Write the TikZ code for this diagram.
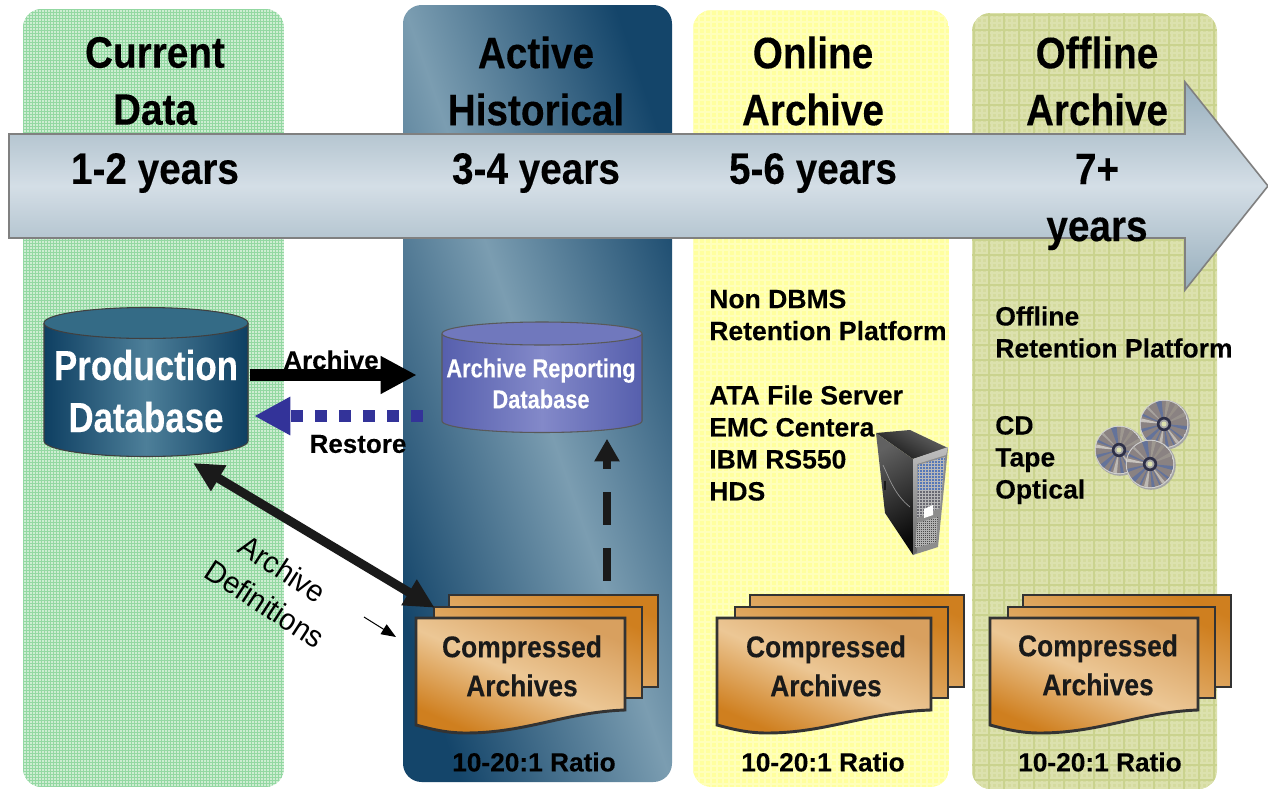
\documentclass[tikz,border=0pt]{standalone}
\usepackage{fontspec}
\setmainfont{Liberation Sans}[BoldFeatures={FakeBold=0.15}]
\newfontfamily\fHead{Liberation Sans}[FakeStretch=0.88,BoldFeatures={FakeBold=0.2}]
\newfontfamily\fProd{Liberation Sans}[FakeStretch=0.83,BoldFeatures={FakeBold=0.2}]
\newfontfamily\fRep{Liberation Sans}[FakeStretch=0.84,BoldFeatures={FakeBold=0.15}]
\newfontfamily\fDef{Liberation Sans}[FakeStretch=0.95]
\usetikzlibrary{arrows.meta,calc}
\definecolor{pgreen}{HTML}{CDEDD2}
\definecolor{pgreenl}{HTML}{93D8A2}
\definecolor{pyellow}{HTML}{FFFF9E}
\definecolor{pyellowl}{HTML}{FFFFBA}
\definecolor{polive}{HTML}{D5DB9F}
\definecolor{polivel}{HTML}{DCE1AE}
\definecolor{polived}{HTML}{CAD38E}
\definecolor{actived}{HTML}{14456A}
\definecolor{activel}{HTML}{7B9DB1}
\definecolor{arrd}{HTML}{97AEBC}
\definecolor{arrl}{HTML}{D4DEE6}
\definecolor{proddark}{HTML}{0E3F62}
\definecolor{prodlight}{HTML}{4D7F99}
\definecolor{prodtop}{HTML}{346B86}
\definecolor{repdark}{HTML}{565FAD}
\definecolor{replight}{HTML}{8389C9}
\definecolor{reptop}{HTML}{7078BD}
\definecolor{restoreblue}{HTML}{333399}
\definecolor{pagedark}{HTML}{CF7F1F}
\definecolor{pagelight}{HTML}{ECC795}
\definecolor{pagemid}{HTML}{D8A05F}
\definecolor{nearblack}{HTML}{1A1A1A}
\definecolor{meshblue}{HTML}{5578B8}
\definecolor{meshgray}{HTML}{6A6A72}
\definecolor{discbase}{HTML}{8A8282}
\definecolor{hubdark}{HTML}{2E3048}
\tikzset{
  headtext/.style={font=\fHead\bfseries\fontsize{33}{42.75}\selectfont,align=center,inner sep=0pt},
  yeartext/.style={font=\fHead\bfseries\fontsize{33}{42.75}\selectfont,align=center,inner sep=0pt},
  platform/.style={font=\bfseries\fontsize{19.9}{24}\selectfont,align=left,anchor=west,inner sep=0pt},
  ratio/.style={font=\bfseries\fontsize{19.7}{24}\selectfont,inner sep=0pt},
  comptext/.style={font=\fHead\bfseries\fontsize{22.5}{29.25}\selectfont,align=center,inner sep=0pt,text=nearblack},
  deftext/.style={font=\fDef\fontsize{22.8}{27}\selectfont,inner sep=0pt,rotate=-33},
  linklabel/.style={font=\bfseries\fontsize{19.5}{24}\selectfont,inner sep=0pt},
  pageline/.style={draw=black!80,line width=2.2pt,line join=miter},
  archivearrow/.style={line width=9.3pt,black,-{Triangle[length=27pt,width=26.5pt]}},
  restorearrow/.style={line width=9.5pt,restoreblue,dash pattern=on 9pt off 9pt,-{Triangle[length=27pt,width=27pt]}},
  defarrow/.style={line width=6.75pt,nearblack,{Triangle[length=22.5pt,width=21pt]}-{Triangle[length=22.5pt,width=21pt]}},
  uparrow/.style={line width=6.4pt,nearblack,dash pattern=on 24.75pt off 17.25pt,-{Triangle[length=17pt,width=18pt]}},
  smallarrow/.style={line width=.75pt,black,-{Triangle[length=11pt,width=8.5pt]}},
}
% stack of three pages: #1 left x, #2 width, #3 node name
\newcommand\pagestack[3]{%
  \pgfmathsetmacro\xa{#1}\pgfmathsetmacro\xr{#1+#2}%
  \shade[bottom color=pagelight,top color=pagedark,shading angle=-24]
     (#1+33,595) -- (\xr+33,595) -- (\xr+33,687) -- (#1+33,687) -- cycle;
  \draw[pageline] (#1+33,606) -- (#1+33,595) -- (\xr+33,595) -- (\xr+33,687) -- (\xr+17,687);
  \shade[bottom color=pagelight,top color=pagedark,shading angle=-24]
     (#1+18,607) -- (\xr+17,607) -- (\xr+17,698) -- (#1+18,698) -- cycle;
  \draw[pageline] (#1+18,618) -- (#1+18,607) -- (\xr+17,607) -- (\xr+17,698) -- (\xr,698);
  \path[pageline,shade,top color=pagemid,bottom color=pagedark,middle color=pagelight,shading angle=-24]
     (#1,618) -- (\xr,618) -- (\xr,710)
     .. controls (#1+150,712) and (#1+110,733) .. (#1+50,733)
     .. controls (#1+30,733) and (#1+15,729) .. (#1,725) -- cycle;
  \node[minimum width=#2*0.75pt,minimum height=86.25pt,inner sep=0pt] (#3) at (#1+#2/2,675.5) {};
}
% compact disc: #1 x, #2 y
\newcommand\compactdisc[2]{%
  \begin{scope}[shift={(#1,#2)}]
    \fill[black!35] (1,1) circle[radius=18.6pt];
    \fill[black!18] (0,0) circle[radius=18.2pt];
    \begin{scope}
      \clip (0,0) circle[radius=17.4pt];
      \fill[discbase] (0,0) circle[radius=17.4pt];
      \foreach \a/\w/\c in {5/10/64739A,35/6/64739A,50/8/BDB9B3,62/4/64739A,78/8/64739A,95/10/BDB9B3,112/5/64739A,130/12/64739A,160/8/64739A,185/9/C8C4BE,200/6/64739A,222/6/A8A49F,250/14/64739A,275/10/9E9890,300/10/968F88,330/10/98928C}{
        \definecolor{raycol}{HTML}{\c}
        \fill[raycol] (0,0) -- (\a:30) -- (\a+\w:30) -- cycle;
      }
    \end{scope}
    \fill[hubdark] (0,0) circle[radius=5.4pt];
    \fill[black!35] (0,0) circle[radius=3.4pt];
    \fill[polivel] (0,0) circle[radius=1.9pt];
  \end{scope}
}
\begin{document}
\begin{tikzpicture}[x=0.75pt,y=-0.75pt,line cap=butt]
\useasboundingbox (0,0) rectangle (1268,789);
\fill[white] (0,0) rectangle (1268,789);
% --- panels ---
\begin{scope}
  \clip[rounded corners=14pt] (23,9) rectangle (284,787);
  \fill[pgreen] (23,9) rectangle (284,787);
  \foreach \x in {23,26,...,284}{\draw[pgreenl,line width=.75pt] (\x,9) -- (\x,787);}
  \foreach \y in {9,12,...,787}{\draw[pgreenl,line width=.75pt] (23,\y) -- (284,\y);}
\end{scope}
\shade[rounded corners=14pt,top color=actived,bottom color=actived,middle color=activel,shading angle=-71]
  (403,5) rectangle (672,782);
\begin{scope}
  \clip[rounded corners=14pt] (693,10) rectangle (949,787);
  \fill[pyellow] (693,10) rectangle (949,787);
  \foreach \x in {693,699,...,949}{\draw[pyellowl,line width=.9pt] (\x,10) -- (\x,787);}
  \foreach \y in {10,16,...,787}{\draw[pyellowl,line width=.9pt] (693,\y) -- (949,\y);}
\end{scope}
\begin{scope}
  \clip[rounded corners=14pt] (972,13) rectangle (1217,789);
  \fill[polive] (972,13) rectangle (1217,789);
  \foreach \x in {972,977,...,1217}{\draw[polivel,line width=.8pt] (\x,13) -- (\x,789);}
  \foreach \y in {13,18,...,789}{\draw[polivel,line width=.8pt] (972,\y) -- (1217,\y);}
  \foreach \x in {974,989,...,1217}{\draw[polived,line width=.8pt] (\x,13) -- (\x,789);}
  \foreach \y in {15,30,...,789}{\draw[polived,line width=.8pt] (972,\y) -- (1217,\y);}
\end{scope}
% --- headings ---
\node[headtext] (h1) at (155,81) {Current\\Data};
\node[headtext] (h2) at (536,81) {Active\\Historical};
\node[headtext] (h3) at (813,81) {Online\\Archive};
\node[headtext] (h4) at (1097,81) {Offline\\Archive};
% --- big timeline arrow ---
\path[draw=black!50,line width=1.2pt,line join=miter,top color=arrd,bottom color=arrd,middle color=arrl]
  (9,134) -- (1185,134) -- (1185,82) -- (1268,186) -- (1185,290) -- (1185,238) -- (9,238) -- cycle;
\node[yeartext] (y1) at (155,173) {1-2 years};
\node[yeartext] (y2) at (536,173) {3-4 years};
\node[yeartext] (y3) at (813,173) {5-6 years};
\node[yeartext] (y4) at (1097,202) {7+\\years};
% --- production database ---
\fill[left color=proddark,right color=proddark,middle color=prodlight]
  (44,323) -- (44,441) arc[start angle=180,end angle=0,x radius=102,y radius=15.5] -- (248,323) -- cycle;
\draw[black!75,line width=.8pt] (44,323) -- (44,441) arc[start angle=180,end angle=0,x radius=102,y radius=15.5] -- (248,323);
\draw[black!75,line width=.8pt,fill=prodtop] (146,323) ellipse[x radius=102,y radius=15.5];
\node[minimum width=153pt,minimum height=112pt,inner sep=0pt,text=white,align=center,
  font=\fProd\bfseries\fontsize{31.5}{39}\selectfont] (prod) at (146,391) {Production\\Database};
% --- archive reporting database ---
\fill[left color=repdark,right color=repdark,middle color=replight]
  (442,333.5) -- (442,421) arc[start angle=180,end angle=0,x radius=100,y radius=11.5] -- (642,333.5) -- cycle;
\draw[black!65,line width=.8pt] (442,333.5) -- (442,421) arc[start angle=180,end angle=0,x radius=100,y radius=11.5] -- (642,333.5);
\draw[black!65,line width=.8pt,fill=reptop] (542,333.5) ellipse[x radius=100,y radius=11.5];
\node[minimum width=150pt,minimum height=60pt,inner sep=0pt,text=white,align=center,
  font=\fRep\bfseries\fontsize{19.5}{23.25}\selectfont] (rep) at (541,383.5) {Archive Reporting\\Database};
% --- page stacks ---
\pagestack{416}{209}{st1}
\pagestack{717}{214}{st2}
\pagestack{990}{208}{st3}
\node[comptext] (c1) at (522,666) {Compressed\\Archives};
\node[comptext] (c2) at (826,666) {Compressed\\Archives};
\node[comptext] (c3) at (1098,665) {Compressed\\Archives};
\node[ratio] (r1) at (534,762) {10-20:1 Ratio};
\node[ratio] (r2) at (823,762) {10-20:1 Ratio};
\node[ratio] (r3) at (1100,762) {10-20:1 Ratio};
% --- platform texts ---
\node[platform] (on1) at (709,315) {Non DBMS\\Retention Platform};
\node[platform] (on2) at (709,443) {ATA File Server\\EMC Centera\\IBM RS550\\HDS};
\node[platform] (of1) at (995,332) {Offline\\Retention Platform};
\node[platform] (of2) at (995,460) {CD\\Tape\\Optical};
% --- server ---
\shade[top color=black!60,bottom color=black!92,shading angle=-30] (876,433) -- (910,430) -- (948,448) -- (913,459) -- cycle;
\shade[top color=black!62,bottom color=black!96,shading angle=30] (876,433) -- (913,459) -- (913,555) -- (885,513) -- cycle;
\draw[black!40,line width=.5pt] (883,465) .. controls (890,480) and (895,495) .. (910,507);
\fill[black!90] (884,481) rectangle (886,490);
\fill[black!45] (913,459) -- (948,448) -- (938,547) -- (913,555) -- cycle;
\shade[top color=black!25,bottom color=black!60] (913,459) -- (948,447) -- (946,455) -- (917,464) -- (917,552) -- (913,555) -- cycle;
\begin{scope}
  \clip (918,465) -- (945,457) -- (940,508) -- (917,518) -- cycle;
  \fill[black!28] (915,455) rectangle (948,520);
  \foreach \x in {917,920,...,947}{\foreach \y in {455,458,...,490}{
    \fill[meshblue] (\x,\y) rectangle +(2.2,2.2);}}
  \foreach \x in {917,920,...,947}{\foreach \y in {491,494,...,520}{
    \fill[meshgray] (\x,\y) rectangle +(1.8,1.8);}}
\end{scope}
\fill[white] (924,509) -- (933,505) -- (933,515) -- (924,518) -- cycle;
\begin{scope}
  \clip (917,523) -- (938,517) -- (936,542) -- (915,548) -- cycle;
  \fill[black!30] (915,515) rectangle (940,550);
  \foreach \x in {915,917,...,940}{\foreach \y in {515,517,...,550}{
    \fill[black!70] (\x,\y) rectangle +(1.1,1.1);}}
\end{scope}
% --- discs ---
\compactdisc{1119}{450}
\compactdisc{1164}{424}
\compactdisc{1150}{464}
% --- connectors ---
\draw[archivearrow] ([shift={(2,-16)}]prod.east) -- ([shift={(-24,-8.5)}]rep.west);
\draw[restorearrow] ([shift={(-18,32.5)}]rep.west) -- ([shift={(6,25)}]prod.east);
\draw[defarrow] ([shift={(19,-10)}]st1.north west) -- ([shift={(47,-3)}]prod.south);
\draw[uparrow] ([shift={(86.5,-37)}]st1.north) -- ([shift={(66,15)}]rep.south);
\coordinate (smallfrom) at (364,617);
\coordinate (smallto) at (396,637);
\draw[smallarrow] (smallfrom) -- (smallto);
% --- labels ---
\node[linklabel] (la) at (331,360) {Archive};
\node[linklabel] (lr) at (358,444) {Restore};
\node[deftext] (d1) at (283,569) {Archive};
\node[deftext] (d2) at (265,604) {Definitions};
\end{tikzpicture}
\end{document}
